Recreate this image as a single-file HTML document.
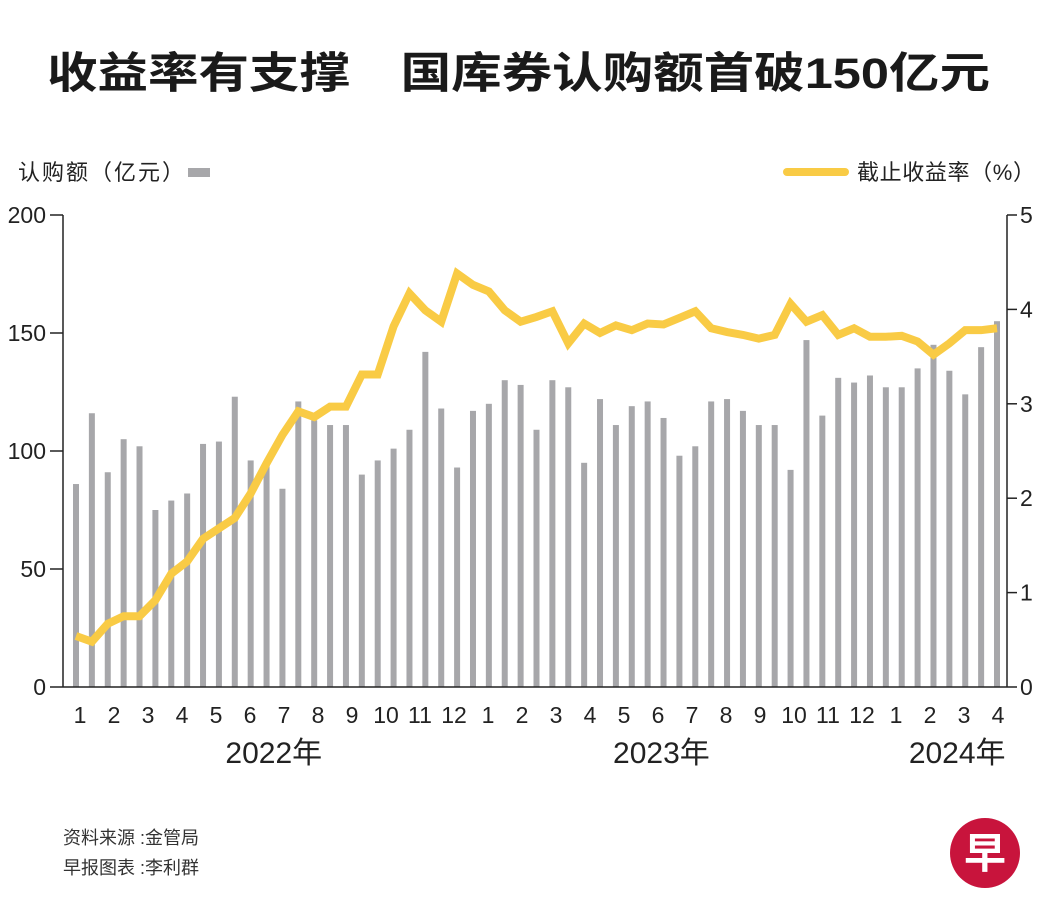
<!DOCTYPE html>
<html><head><meta charset="utf-8"><style>
body{margin:0;background:#fff;}
svg{display:block;font-family:"Liberation Sans","Noto Sans CJK SC",sans-serif;}
</style></head><body>
<svg id="chart" width="1054" height="920" viewBox="0 0 1054 920">
<text x="47" y="88" font-size="43" font-weight="bold" fill="#1a1a1a" textLength="943" lengthAdjust="spacingAndGlyphs" font-family="'Liberation Sans','Noto Sans CJK SC',sans-serif">收益率有支撑　国库券认购额首破150亿元</text>
<text x="18" y="180" font-size="22" fill="#222" textLength="166">认购额（亿元）</text>
<rect x="188" y="168" width="22" height="9" fill="#a7a7aa"/>
<line x1="787" y1="172" x2="845" y2="172" stroke="#f9cb45" stroke-width="8" stroke-linecap="round"/>
<text x="857" y="180" font-size="22" fill="#222" textLength="178">截止收益率（%）</text>
<g id="plot"></g>
<text x="63" y="844" font-size="18" fill="#333">资料来源 :金管局</text>
<text x="63" y="874" font-size="18" fill="#333">早报图表 :李利群</text>
<circle cx="985" cy="853" r="35" fill="#c8143c"/>
<text x="985" y="868" font-size="42" fill="#fff" text-anchor="middle" font-weight="bold">早</text>
</svg>
<script>
const amounts=[86,116,91,105,102,75,79,82,103,104,123,96,95,84,121,113,111,111,90,96,
101,109,142,118,93,117,120,130,128,109,130,127,95,122,111,119,121,114,98,102,121,
122,117,111,111,92,147,115,131,129,132,127,127,135,145,134,124,144,155];
const yields=[0.54,0.48,0.67,0.75,0.75,0.92,1.20,1.33,1.57,1.68,1.79,2.05,2.37,2.67,2.92,2.86,2.97,2.97,3.31,3.31,
3.82,4.17,3.99,3.87,4.38,4.26,4.19,3.99,3.87,3.92,3.98,3.64,3.85,3.75,3.83,3.78,3.85,3.84,3.91,3.98,3.80,
3.76,3.73,3.69,3.73,4.06,3.87,3.94,3.73,3.80,3.71,3.71,3.72,3.66,3.52,3.64,3.78,3.78,3.80];
const leftTicks=[0,50,100,150,200];
const rightTicks=[0,1,2,3,4,5];
const monthLabels=["1","2","3","4","5","6","7","8","9","10","11","12","1","2","3","4","5","6","7","8","9","10","11","12","1","2","3","4"];
const yearLabels=["2022年","2023年","2024年"];
const yearMonthIndex=[5.7,17.1,25.8];

const NS="http://www.w3.org/2000/svg";
const g=document.getElementById('plot');
const X0=76,X1=997,Y0=687,Y1=215,AL=63,AR=1007;
function xb(i){return X0+(X1-X0)*i/(amounts.length-1);}
function yl(v){return Y0-(Y0-Y1)*v/200;}
function yr(v){return Y0-(Y0-Y1)*v/5;}
function xm(i){return 80+(998-80)*i/(monthLabels.length-1);}
function mk(t,a){const e=document.createElementNS(NS,t);for(const k in a)e.setAttribute(k,a[k]);g.appendChild(e);return e;}

amounts.forEach((v,i)=>{
  const r=mk('rect',{x:xb(i)-3,y:yl(v),width:6,height:Y0-yl(v),fill:'#a7a7aa'});
  
  
});
const p=mk('polyline',{points:yields.map((v,i)=>xb(i)+','+yr(v)).join(' '),fill:'none',stroke:'#f9cb45','stroke-width':8,'stroke-linejoin':'miter','stroke-miterlimit':3});



const a1=mk('line',{x1:AL,y1:Y1,x2:AL,y2:Y0,stroke:'#222','stroke-width':1.5});


const a2=mk('line',{x1:AR,y1:Y1,x2:AR,y2:Y0,stroke:'#222','stroke-width':1.5});


const a3=mk('line',{x1:AL,y1:Y0,x2:AR,y2:Y0,stroke:'#222','stroke-width':1.5});



leftTicks.forEach(v=>{
  const t=mk('line',{x1:50,y1:yl(v),x2:AL,y2:yl(v),stroke:'#222','stroke-width':1.5});
  
  
  const l=mk('text',{x:46,y:yl(v)+8,'font-size':23,'text-anchor':'end',fill:'#222'});
  l.textContent=v;
  
  
});
rightTicks.forEach(v=>{
  const t=mk('line',{x1:AR,y1:yr(v),x2:1017,y2:yr(v),stroke:'#222','stroke-width':1.5});
  
  
  const l=mk('text',{x:1020,y:yr(v)+8,'font-size':23,fill:'#222'});
  l.textContent=v;
  
  
});
monthLabels.forEach((m,i)=>{
  const l=mk('text',{x:xm(i),y:723,'font-size':23,'text-anchor':'middle',fill:'#222'});
  l.textContent=m;
  
  
});
yearLabels.forEach((y,i)=>{
  const l=mk('text',{x:xm(yearMonthIndex[i]),y:763,'font-size':30,'text-anchor':'middle',fill:'#222'});
  l.textContent=y;
  
  
});
</script>
</body></html>
